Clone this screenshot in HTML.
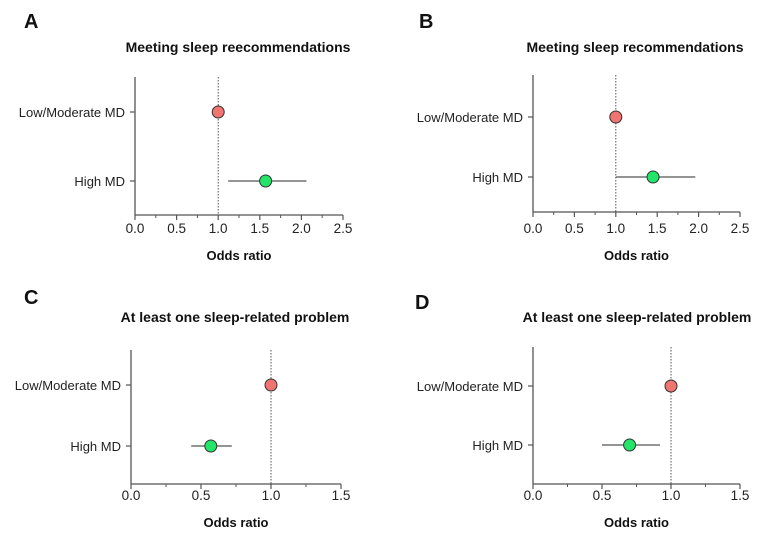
<!DOCTYPE html>
<html><head><meta charset="utf-8"><style>
body{margin:0;background:#fff;}
svg text{font-family:"Liberation Sans",Arial,sans-serif;}
</style></head><body>
<svg id="fig" width="781" height="540" viewBox="0 0 781 540"></svg>
<script>
const categories = ["Low/Moderate MD", "High MD"];
const titles = ["Meeting sleep reecommendations","Meeting sleep recommendations","At least one sleep-related problem","At least one sleep-related problem"];
const letters = ["A","B","C","D"];
const estA = [1.0, 1.57], loA = [null, 1.12], hiA = [null, 2.06];
const estB = [1.0, 1.45], loB = [null, 1.0], hiB = [null, 1.96];
const estC = [1.0, 0.57], loC = [null, 0.43], hiC = [null, 0.72];
const estD = [1.0, 0.70], loD = [null, 0.50], hiD = [null, 0.92];
const ticksAB = ["0.0","0.5","1.0","1.5","2.0","2.5"];
const ticksCD = ["0.0","0.5","1.0","1.5"];

const panels = [
 {x0:135,x1:343,top:77,bot:215,rows:[112,181],max:2.5,ticks:ticksAB,est:estA,lo:loA,hi:hiA,title:titles[0],tx:238,ty:52,letter:letters[0],lx:24,ly:28,tl:233,ol:260},
 {x0:533,x1:740,top:75,bot:212,rows:[117,177],max:2.5,ticks:ticksAB,est:estB,lo:loB,hi:hiB,title:titles[1],tx:635,ty:52,letter:letters[1],lx:419,ly:28,tl:233,ol:260},
 {x0:131,x1:341,top:350,bot:484,rows:[385,446],max:1.5,ticks:ticksCD,est:estC,lo:loC,hi:hiC,title:titles[2],tx:235,ty:322,letter:letters[2],lx:24,ly:304,tl:500,ol:527},
 {x0:533,x1:740,top:347,bot:484,rows:[386,445],max:1.5,ticks:ticksCD,est:estD,lo:loD,hi:hiD,title:titles[3],tx:637,ty:322,letter:letters[3],lx:415,ly:309,tl:500,ol:527}
];
const svg = document.getElementById('fig');
const NS = "http://www.w3.org/2000/svg";
function mk(tag, attrs, txt){const e=document.createElementNS(NS,tag);for(const k in attrs)e.setAttribute(k,attrs[k]);if(txt!==undefined)e.textContent=txt;svg.appendChild(e);return e;}
panels.forEach((p,pi)=>{
  const sx = v => p.x0 + v/p.max*(p.x1-p.x0);
  let e;
  e=mk('text',{x:p.lx,y:p.ly,'font-size':20,'font-weight':'bold',fill:'#111'},p.letter);
  
  
  e=mk('text',{x:p.tx,y:p.ty,'font-size':14,'font-weight':'bold','text-anchor':'middle',fill:'#111'},p.title);
  
  
  e=mk('line',{x1:sx(1),x2:sx(1),y1:p.top,y2:p.bot,stroke:'#555','stroke-width':1,'stroke-dasharray':'1.5,1.5'});
  
  
  e=mk('line',{x1:p.x0,x2:p.x0,y1:p.top,y2:p.bot,stroke:'#555','stroke-width':1.3});
  
  
  e=mk('line',{x1:p.x0,x2:p.x1,y1:p.bot,y2:p.bot,stroke:'#555','stroke-width':1.3});
  
  
  const step = p.max/(p.ticks.length-1);
  p.ticks.forEach((t,i)=>{
    const x=sx(i*step);
    e=mk('line',{x1:x,x2:x,y1:p.bot,y2:p.bot+5,stroke:'#555','stroke-width':1.2});
    
    
    if(i<p.ticks.length-1){
      const xm=sx((i+0.5)*step);
      e=mk('line',{x1:xm,x2:xm,y1:p.bot,y2:p.bot+3,stroke:'#555','stroke-width':1});
      
      
    }
    e=mk('text',{x:x,y:p.tl,'font-size':13.5,'text-anchor':'middle',fill:'#222'},t);
    
    
  });
  e=mk('text',{x:(p.x0+p.x1)/2,y:p.ol,'font-size':13,'font-weight':'bold','text-anchor':'middle',fill:'#111'},'Odds ratio');
  
  
  categories.forEach((c,ci)=>{
    const y=p.rows[ci];
    e=mk('line',{x1:p.x0-5,x2:p.x0,y1:y,y2:y,stroke:'#555','stroke-width':1.2});
    
    
    e=mk('text',{x:p.x0-10,y:y+5,'font-size':13,'text-anchor':'end',fill:'#222'},c);
    
    
    if(p.lo[ci]!==null){
      e=mk('line',{x1:sx(p.lo[ci]),x2:sx(p.hi[ci]),y1:y,y2:y,stroke:'#555','stroke-width':1.3});
      
      
    }
    e=mk('circle',{cx:sx(p.est[ci]),cy:y,r:6,fill:ci===0?'#f07470':'#22e56a',stroke:'#333','stroke-width':1});
    
    
  });
});
</script>
</body></html>
